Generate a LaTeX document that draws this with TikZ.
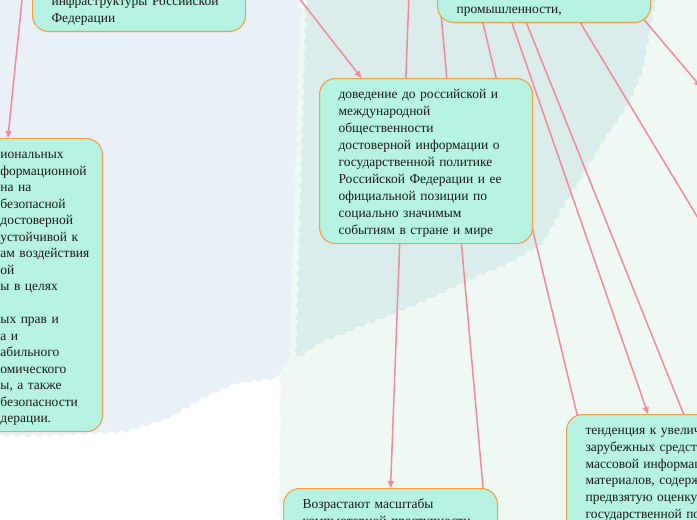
\documentclass[tikz,border=0pt]{standalone}
\usepackage{fontspec}
\setmainfont{Liberation Serif}
\usetikzlibrary{arrows.meta,calc,backgrounds,decorations.pathmorphing}
\definecolor{mint}{RGB}{182,243,226}
\definecolor{amber}{RGB}{244,160,64}
\definecolor{rose}{RGB}{242,138,156}
\definecolor{paleblue}{RGB}{233,241,247}
\definecolor{paleteal}{RGB}{218,237,236}
\definecolor{palegreen}{RGB}{239,248,243}
\definecolor{inktext}{RGB}{25,25,25}

\begin{document}
\begin{tikzpicture}[x=1pt,y=-1pt,line join=round,
  topic/.style={draw=amber,line width=1.1pt,fill=mint,rounded corners=16pt,
    text=inktext,align=left,text width=175pt,inner xsep=19pt,inner ysep=6pt,
    font=\fontsize{13.5}{16.8}\selectfont,
    execute at begin node=\rule{0pt}{14pt},execute at end node=\rule[-3pt]{0pt}{3pt}},
  link/.style={rose,line width=1.5pt},
  arrowed/.style={link,-{Triangle[length=7pt,width=6pt]}},
  wavy/.style={decorate,decoration={snake,amplitude=1.3pt,segment length=11pt}}]
\useasboundingbox (0,0) rectangle (697,520);
\node[topic,anchor=south west] (infra) at (32,32) {обеспечение устойчивого и\\бесперебойного\\функционирования\\критической\\информационной\\инфраструктуры Российской\\Федерации};
\node[topic,anchor=south west] (industry) at (437,23) {развитие в Российской\\Федерации отрасли\\информационных\\технологий и электронной\\промышленности,};
\node[topic,anchor=north west,font=\fontsize{13.5}{17}\selectfont] (public) at (319,78) {доведение до российской и\\международной\\общественности\\достоверной информации о\\государственной политике\\Российской Федерации и ее\\официальной позиции по\\социально значимым\\событиям в стране и мире};
\node[topic,anchor=north east,text width=83pt,font=\fontsize{13.5}{16.5}\selectfont] (security) at (103,138) {иональных\\формационной\\на на\\безопасной\\достоверной\\устойчивой к\\\mbox{ам воздействия}\\ой\\ы в целях\\\mbox{}\\ых прав и\\а и\\абильного\\омического\\ы, а также\\безопасности\\дерации.};
\node[topic,anchor=north west,text width=200pt] (media) at (566,414) {тенденция к увеличению в\\зарубежных средствах\\массовой информации объема\\материалов, содержащих\\предвзятую оценку\\государственной политики\\Российской Федерации.};
\node[topic,anchor=north west,text width=176pt] (crime) at (283,488) {Возрастают масштабы\\компьютерной преступности,\\прежде всего в кредитно-\\финансовой сфере};
\node[topic,anchor=north west,minimum width=213pt,minimum height=250pt] (right) at (697,82) {};

\begin{scope}[on background layer]
\fill[palegreen,wavy] (279,560) -- (281,300) -- (300,-30) -- (740,-30) -- (740,560) -- cycle;
\fill[paleteal,wavy] (300,-30) -- (660,-30) -- (653,0) -- (640,70) -- (627,100) -- (603,135) -- (580,173) -- (563,200) -- (540,240) -- (510,258) -- (467,277) -- (417,300) -- (400,307) -- (317,340) -- (289,358) -- cycle;
\fill[paleblue,wavy] (-30,-30) -- (301,-30) -- (288,362) -- (276,380) -- (240,384) -- (210,397) -- (170,420) -- (130,433) -- (60,437) -- (-30,438) -- cycle;

\coordinate (hub) at (418,-247);
\coordinate (csrc) at (238,-80);
\coordinate (lsrc) at (24,-20);
\coordinate (crimein) at (485,510);
\coordinate (mediain) at (690,430);
\coordinate (mediain2) at (582,435);
\coordinate (rightin) at (710,238);
\draw[arrowed] (hub) -- (crime.north);
\draw[link] (hub) -- (crimein);
\draw[arrowed] (hub) -- ($(media.north west)+(82,0)$);
\draw[link] (hub) -- (mediain);
\draw[link] (hub) -- (mediain2);
\draw[link] (hub) -- (rightin);
\draw[arrowed] (hub) -- ($(right.north west)+(4,5)$);
\draw[arrowed] (csrc) -- (public);
\draw[arrowed] (lsrc) -- ($(security.north west)+(27,0)$);
\end{scope}
\end{tikzpicture}
\end{document}
